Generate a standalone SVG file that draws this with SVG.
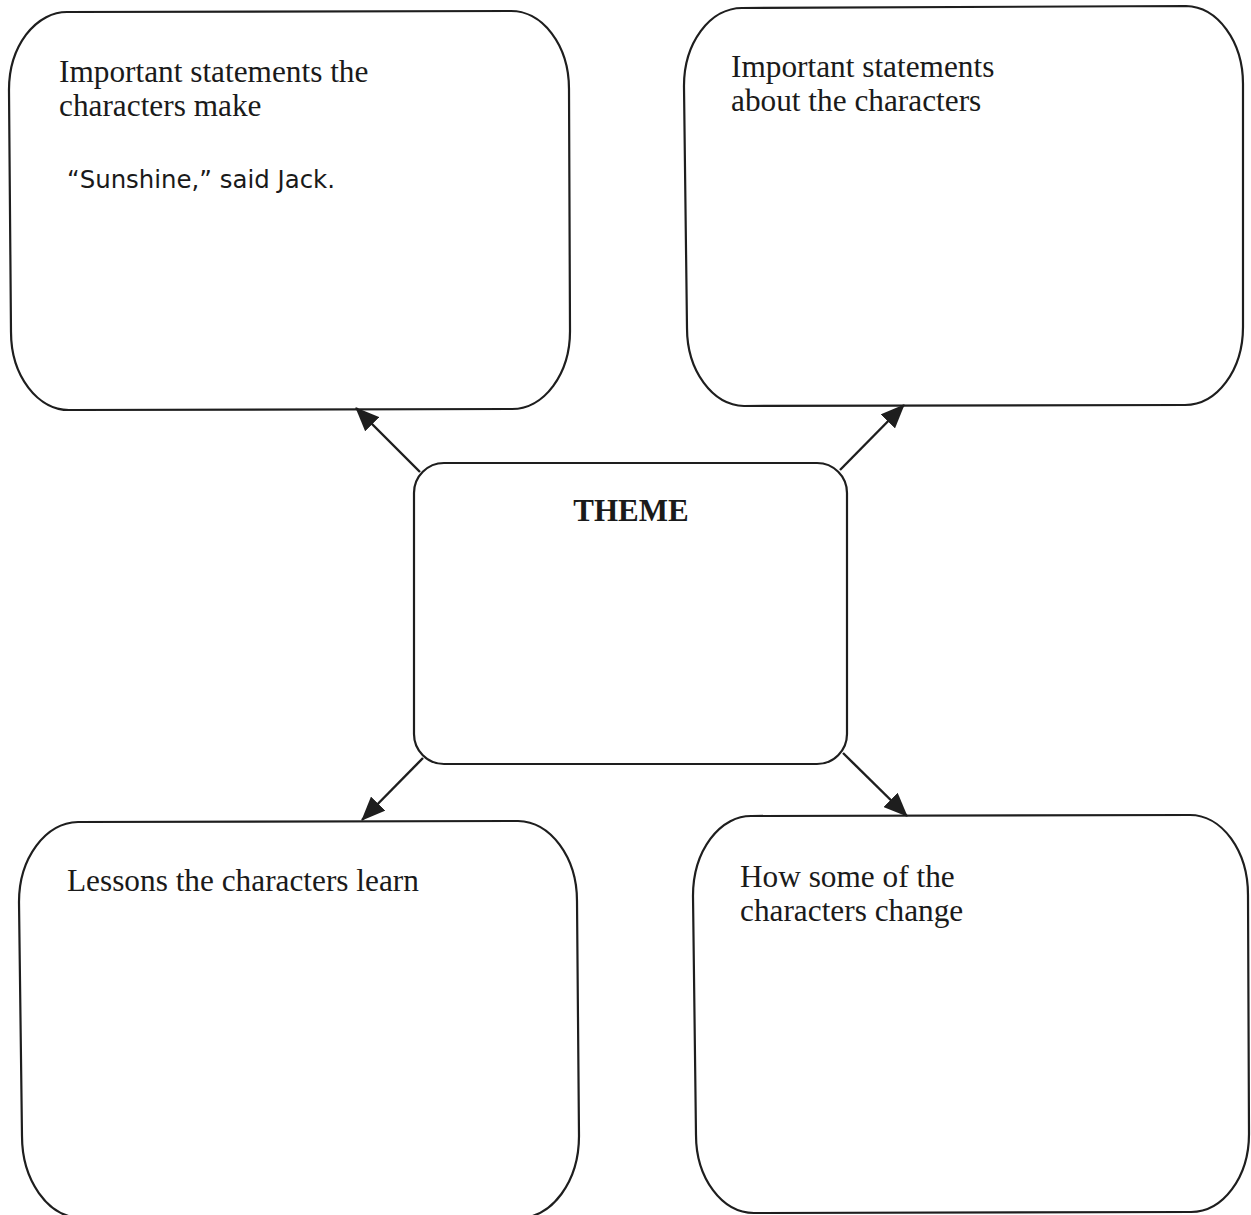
<svg xmlns="http://www.w3.org/2000/svg" width="1251" height="1215" viewBox="0 0 1251 1215">
  <style>
    .box { fill: none; stroke: #1e1e1e; stroke-width: 2.2; }
    .conn { stroke: #1e1e1e; stroke-width: 2.4; fill: none; }
    .t { font-family: "Liberation Serif", "Times New Roman", serif; font-size: 31.3px; fill: #1a1a1a; }
    .h { font-family: "Liberation Serif", "Times New Roman", serif; font-size: 31px; font-weight: bold; fill: #1a1a1a; }
    .hw { font-family: "DejaVu Sans", "Liberation Sans", sans-serif; font-size: 25px; fill: #1a1a1a; }
  </style>
  <defs>
    <marker id="ah" viewBox="0 0 24 20" refX="23" refY="10" markerWidth="24" markerHeight="20" markerUnits="userSpaceOnUse" orient="auto">
      <path d="M0,0 L24,10 L0,20 Z" fill="#1e1e1e"/>
    </marker>
  </defs>
  <rect width="1251" height="1215" fill="#ffffff"/>

  <g id="node-statements-make">
    <path class="box" d="M68,12 L510,11 A58,78 0 0 1 569,89 L570,330 A58,78 0 0 1 512,409 L70,410 A58,78 0 0 1 11,332 L9,91 A58,78 0 0 1 68,12 Z"/>
    <text class="t" x="59" y="82">Important statements the</text>
    <text class="t" x="59" y="116">characters make</text>
    <text class="hw" x="67" y="188" textLength="268" lengthAdjust="spacingAndGlyphs">“Sunshine,” said Jack.</text>
  </g>

  <g id="node-statements-about">
    <path class="box" d="M742,8 L1186,6 A58,78 0 0 1 1243,84 L1243,327 A58,78 0 0 1 1185,405 L744,406 A58,78 0 0 1 687,328 L684,87 A58,78 0 0 1 742,8 Z"/>
    <text class="t" x="731" y="77">Important statements</text>
    <text class="t" x="731" y="111">about the characters</text>
  </g>

  <g id="node-theme">
    <rect class="box" x="414" y="463" width="433" height="301" rx="30" ry="30"/>
    <text class="h" x="631" y="521" text-anchor="middle">THEME</text>
  </g>

  <g id="node-lessons">
    <path class="box" d="M78,822 L518,821 A60,80 0 0 1 577,901 L579,1136 A60,82 0 0 1 519,1218 L80,1218 A60,82 0 0 1 22,1136 L19,902 A60,80 0 0 1 78,822 Z"/>
    <text class="t" x="67" y="891">Lessons the characters learn</text>
  </g>

  <g id="node-change">
    <path class="box" d="M752,816 L1190,815 A58,80 0 0 1 1248,895 L1249,1134 A58,78 0 0 1 1191,1212 L754,1213 A58,78 0 0 1 696,1135 L693,896 A58,80 0 0 1 752,816 Z"/>
    <text class="t" x="740" y="887">How some of the</text>
    <text class="t" x="740" y="921">characters change</text>
  </g>

  <g id="connectors">
    <line class="conn" x1="420" y1="472" x2="356" y2="408" marker-end="url(#ah)"/>
    <line class="conn" x1="840" y1="470" x2="904" y2="405" marker-end="url(#ah)"/>
    <line class="conn" x1="423" y1="758" x2="362" y2="820" marker-end="url(#ah)"/>
    <line class="conn" x1="843" y1="753" x2="907" y2="816" marker-end="url(#ah)"/>
  </g>
</svg>
